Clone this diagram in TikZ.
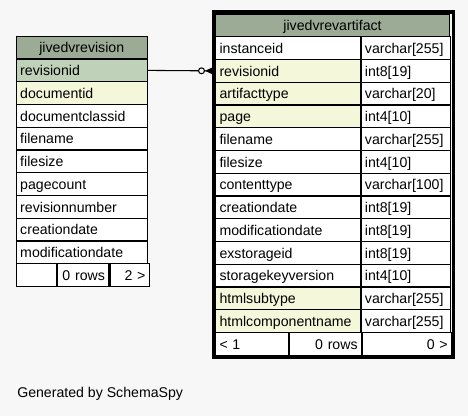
\documentclass[tikz,border=0pt]{standalone}
\usepackage{fontspec}
\setmainfont{Liberation Sans}
\usepackage{tikz}
\usetikzlibrary{positioning,calc,arrows.meta}

\definecolor{pagebg}{HTML}{F7F7F7}
\definecolor{headgreen}{HTML}{9CAB96}
\definecolor{keygreen}{HTML}{BFD2B9}
\definecolor{fkyellow}{HTML}{F4F7DA}

\newcommand{\tblfont}{\fontsize{10.6}{12}\selectfont}

\tikzset{
	cell/.style={draw=black, line width=0.8pt, fill=white, anchor=north west,
		minimum height=17.06pt, inner xsep=3pt, inner ysep=0pt,
		text height=7.7pt, text depth=0pt, align=left, font=\tblfont},
	hdr/.style={cell, fill=headgreen, align=center},
}

\begin{document}
\begin{tikzpicture}[x=0.75pt,y=-0.75pt]
	\fill[pagebg] (0,0) rectangle (468,416);
	\useasboundingbox (0,0) rectangle (468,416);
	
	% jivedvrevision
	\node[hdr, text width=92.25pt] (lhead) at (15.7,35.75) {jivedvrevision};
	\foreach \n/\f [count=\i] in {revisionid/keygreen, documentid/fkyellow,
		documentclassid/white, filename/white, filesize/white, pagecount/white,
		revisionnumber/white, creationdate/white, modificationdate/white}
	\node[cell, fill=\f, text width=92.25pt] (l\i) at (15.7,{35.75+\i*22.75}) {\n};
	\node[cell, text width=24pt] (lf1) at (15.7,263.25) {};
	\node[cell, text width=32.7pt, align=right, right=0pt of lf1] (lf2) {0 rows};
	\node[cell, text width=23.55pt, align=right, right=0pt of lf2] (lf3) {2 >};
	
	% jivedvrevartifact
	\node[hdr, text width=169.5pt] (rhead) at (215,13.5) {jivedvrevartifact};
	\foreach \n/\t/\f [count=\i] in {instanceid/{varchar[255]}/white,
		revisionid/{int8[19]}/fkyellow, artifacttype/{varchar[20]}/fkyellow,
		page/{int4[10]}/fkyellow, filename/{varchar[255]}/white,
		filesize/{int4[10]}/white, contenttype/{varchar[100]}/white,
		creationdate/{int8[19]}/white, modificationdate/{int8[19]}/white,
		exstorageid/{int8[19]}/white, storagekeyversion/{int4[10]}/white,
		htmlsubtype/{varchar[255]}/fkyellow, htmlcomponentname/{varchar[255]}/fkyellow}
	{
		\node[cell, fill=\f, text width=102.75pt] (rn\i) at (215,{13.5+\i*22.75}) {\n};
		\node[cell, inner xsep=2.5pt, text width=61.75pt, right=0pt of rn\i] (rt\i) {\t};
	}
	\node[cell, text width=49pt] (rf1) at (215,332) {< 1};
	\node[cell, text width=47.75pt, align=right, right=0pt of rf1] (rf2) {0 rows};
	\node[cell, text width=60.75pt, align=right, right=0pt of rf2] (rf3) {0 >};
	\draw[line width=2.5pt] ($(rhead.north west)+(-1.6,-1.6)$) rectangle ($(rf3.south east)+(1.6,1.6)$);
	
	\draw[line width=0.8pt, -{Circle[open, fill=pagebg, length=5.25pt, width=5.25pt, sep=0pt] Triangle[reversed, length=7.5pt, width=6.75pt, sep=0pt]}] (l1.east) -- (rn2.west);
	
	\node[anchor=base west, font=\tblfont, inner sep=0pt] (gen) at (17,398) {Generated by SchemaSpy};
\end{tikzpicture}
\end{document}
